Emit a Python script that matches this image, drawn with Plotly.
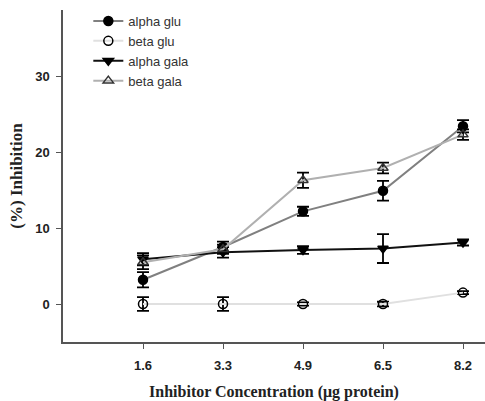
import plotly.graph_objects as go

conc = ["1.6", "3.3", "4.9", "6.5", "8.2"]

alpha_glu = [3.2, 7.5, 12.2, 14.9, 23.4]
alpha_glu_err = [1.0, 0.7, 0.6, 1.3, 0.8]

beta_glu = [0.0, 0.0, 0.0, 0.0, 1.5]
beta_glu_err = [0.9, 0.9, 0.2, 0.3, 0.2]

alpha_gala = [5.9, 6.8, 7.1, 7.3, 8.1]
alpha_gala_err = [0.8, 0.7, 0.5, 1.9, 0.4]

beta_gala = [5.5, 7.2, 16.3, 17.9, 22.3]
beta_gala_err = [0.9, 0.6, 1.0, 0.7, 0.7]

xpos = list(range(len(conc)))

series = [
    ("alpha glu", alpha_glu, alpha_glu_err, "#808080", "circle", "black", "black"),
    ("beta glu", beta_glu, beta_glu_err, "#e0e0e0", "circle-open", "black", "black"),
    ("alpha gala", alpha_gala, alpha_gala_err, "#111111", "triangle-down", "black", "black"),
    ("beta gala", beta_gala, beta_gala_err, "#b0b0b0", "triangle-up-open", "#333333", "#333333"),
]

fig = go.Figure()
for name, ys, errs, lc, sym, mc, mlc in series:
    fig.add_trace(go.Scatter(
        x=xpos, y=ys, name=name, mode="lines+markers",
        line=dict(color=lc, width=2),
        marker=dict(symbol=sym, size=9, color=mc, line=dict(color=mlc, width=1.5)),
        error_y=dict(type="data", array=errs, visible=True, color="black",
                     thickness=1.8, width=6),
    ))

fig.update_layout(
    width=485, height=401,
    margin=dict(l=63, r=0, t=10, b=59),
    plot_bgcolor="white", paper_bgcolor="white",
    showlegend=True,
    legend=dict(x=0.06, y=1.012, xanchor="left", yanchor="top",
                font=dict(family="Arial", size=13, color="#333333"),
                bgcolor="rgba(0,0,0,0)", tracegroupgap=0, itemwidth=30),
    font=dict(family="Arial"),
)
fig.update_xaxes(
    range=[-1, 4.275], tickvals=xpos, ticktext=conc,
    showgrid=False, zeroline=False, showline=True, linecolor="#555555", linewidth=1.5,
    ticks="outside", ticklen=5, tickcolor="#555555", ticklabelstandoff=6,
    tickfont=dict(family="Arial", size=13, color="#222222", weight="bold"),
    title=dict(text="Inhibitor Concentration (\u03bcg protein)",
               font=dict(family="Liberation Serif", size=16, color="#222222", weight="bold"),
               standoff=14),
)
fig.update_yaxes(
    range=[-5, 38.7], tickvals=[0, 10, 20, 30],
    showgrid=False, zeroline=False, showline=True, linecolor="#555555", linewidth=1.5,
    ticks="outside", ticklen=5, tickcolor="#555555", ticklabelstandoff=4,
    tickfont=dict(family="Arial", size=13, color="#222222", weight="bold"),
    title=dict(text="(%) Inhibition",
               font=dict(family="Liberation Serif", size=17, color="#222222", weight="bold"),
               standoff=8),
)

fig.write_html("out.html")
